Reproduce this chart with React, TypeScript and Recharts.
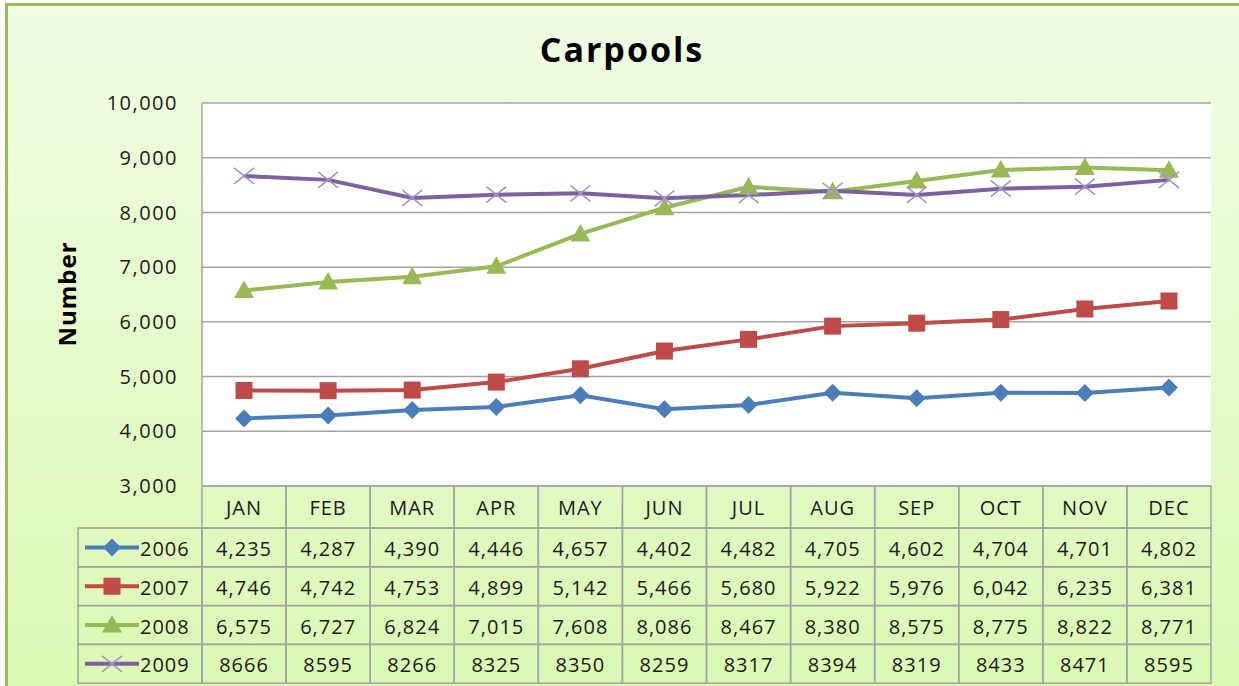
import { CartesianGrid, Line, LineChart, XAxis, YAxis } from 'recharts'

const months = ['JAN', 'FEB', 'MAR', 'APR', 'MAY', 'JUN', 'JUL', 'AUG', 'SEP', 'OCT', 'NOV', 'DEC']
const years = ['2006', '2007', '2008', '2009']
const v2006 = [4235, 4287, 4390, 4446, 4657, 4402, 4482, 4705, 4602, 4704, 4701, 4802]
const v2007 = [4746, 4742, 4753, 4899, 5142, 5466, 5680, 5922, 5976, 6042, 6235, 6381]
const v2008 = [6575, 6727, 6824, 7015, 7608, 8086, 8467, 8380, 8575, 8775, 8822, 8771]
const v2009 = [8666, 8595, 8266, 8325, 8350, 8259, 8317, 8394, 8319, 8433, 8471, 8595]
const yTicks = [3000, 4000, 5000, 6000, 7000, 8000, 9000, 10000]
// the 2009 row of the table is printed without thousands separators
const commaRows = [true, true, true, false]

const W = 1239
const H = 686
const PLOT_LEFT = 202
const PLOT_RIGHT = 1211
const COL_W = (PLOT_RIGHT - PLOT_LEFT) / months.length
const HEAD_H = 42
const ROW_H = 38.8
const FONT = '"Open Sans", "Liberation Sans", sans-serif'
const GRID = '#a3a3a3'

const seriesValues = [v2006, v2007, v2008, v2009]
const colors = ['#4a7ebb', '#be4b48', '#98b954', '#7d60a0']
const markerColors = ['#4a7ebb', '#be4b48', '#98b954', '#a693cc']

const data = months.map((m, i) => ({
  month: m,
  y2006: v2006[i],
  y2007: v2007[i],
  y2008: v2008[i],
  y2009: v2009[i]
}))

function Marker({ kind, cx, cy, color }: { kind: number; cx: number; cy: number; color: string }) {
  if (kind === 0) {
    const r = 9
    return <polygon points={`${cx},${cy - r} ${cx + r},${cy} ${cx},${cy + r} ${cx - r},${cy}`} fill={color} />
  }
  if (kind === 1) {
    const s = 17
    return <rect x={cx - s / 2} y={cy - s / 2} width={s} height={s} fill={color} />
  }
  if (kind === 2) {
    const r = 10
    return <polygon points={`${cx},${cy - r} ${cx + r},${cy + r * 0.75} ${cx - r},${cy + r * 0.75}`} fill={color} />
  }
  const r = 10
  return (
    <g stroke={color} strokeWidth={1.6}>
      <line x1={cx - r} y1={cy - r * 0.8} x2={cx + r} y2={cy + r * 0.8} />
      <line x1={cx - r} y1={cy + r * 0.8} x2={cx + r} y2={cy - r * 0.8} />
    </g>
  )
}

const fmt = (v: number, comma: boolean) => (comma ? v.toLocaleString('en-US') : String(v))

function TableColumn(props: any) {
  const { x, y, payload, index } = props
  const left = x - COL_W / 2
  const cellText = { fontFamily: FONT, fontSize: 20, fill: '#1a1a1a', letterSpacing: 1, textAnchor: 'middle' as const, dominantBaseline: 'central' as const }
  return (
    <g>
      <rect x={left} y={y} width={COL_W} height={HEAD_H} fill="none" stroke={GRID} strokeWidth={1.5} />
      <text x={x} y={y + HEAD_H / 2} {...cellText}>{payload.value}</text>
      {seriesValues.map((vals, r) => (
        <g key={r}>
          <rect x={left} y={y + HEAD_H + r * ROW_H} width={COL_W} height={ROW_H} fill="none" stroke={GRID} strokeWidth={1.5} />
          <text x={x} y={y + HEAD_H + r * ROW_H + ROW_H / 2 + 1} {...cellText}>{fmt(vals[index], commaRows[r])}</text>
        </g>
      ))}
      {index === 0 &&
        years.map((yr, r) => {
          const cy = y + HEAD_H + r * ROW_H + ROW_H / 2
          return (
            <g key={yr}>
              <rect x={78} y={y + HEAD_H + r * ROW_H} width={PLOT_LEFT - 78} height={ROW_H} fill="none" stroke={GRID} strokeWidth={1.5} />
              <line x1={85} y1={cy} x2={139} y2={cy} stroke={colors[r]} strokeWidth={4} />
              <Marker kind={r} cx={112} cy={cy} color={markerColors[r]} />
              <text x={140} y={cy + 1} fontFamily={FONT} fontSize={20} fill="#1a1a1a" letterSpacing={1} dominantBaseline="central">
                {yr}
              </text>
            </g>
          )
        })}
    </g>
  )
}

export default function App() {
  return (
    <div style={{ position: 'relative', width: W, height: H, overflow: 'hidden' }}>
      <style>{'body{margin:0}'}</style>
      <div
        style={{
          position: 'absolute',
          left: 5,
          top: 3,
          width: 1231,
          height: 720,
          border: '3px solid #9bbb59',
          background: 'linear-gradient(#f0fde3, #daf8b1)'
        }}
      />
      <div style={{ position: 'absolute', left: 0, top: 0 }}>
        <LineChart width={W} height={H} data={data} margin={{ top: 103, right: W - PLOT_RIGHT, bottom: 3, left: PLOT_LEFT - 70 }}>
          <CartesianGrid vertical={false} stroke={GRID} strokeWidth={1.5} fill="#ffffff" />
          <XAxis
            dataKey="month"
            height={197}
            axisLine={false}
            tickLine={false}
            tickSize={0}
            tickMargin={0}
            interval={0}
            padding={{ left: COL_W / 2, right: COL_W / 2 }}
            tick={<TableColumn />}
          />
          <YAxis
            width={70}
            domain={[3000, 10000]}
            ticks={yTicks}
            interval={0}
            axisLine={{ stroke: GRID, strokeWidth: 1.5 }}
            tickLine={false}
            tickSize={6}
            tickMargin={18}
            tickFormatter={(v: number) => v.toLocaleString('en-US')}
            tick={{ fontFamily: FONT, fontSize: 20, fill: '#1a1a1a', letterSpacing: 1.5 }}
          />
          {years.map((yr, i) => (
            <Line
              key={yr}
              dataKey={`y${yr}`}
              stroke={colors[i]}
              strokeWidth={4}
              isAnimationActive={false}
              dot={(p: any) => <Marker key={`${yr}-${p.index}`} kind={i} cx={p.cx} cy={p.cy} color={markerColors[i]} />}
              activeDot={false}
            />
          ))}
          <text x={622} y={49} textAnchor="middle" dominantBaseline="central" fontFamily={FONT} fontWeight={700} fontSize={34} letterSpacing={2} fill="#000">
            Carpools
          </text>
          <text
            x={66}
            y={294}
            transform="rotate(-90 66 294)"
            textAnchor="middle"
            dominantBaseline="central"
            fontFamily={FONT}
            fontWeight={700}
            fontSize={24}
            letterSpacing={1}
            fill="#000"
          >
            Number
          </text>
        </LineChart>
      </div>
    </div>
  )
}
